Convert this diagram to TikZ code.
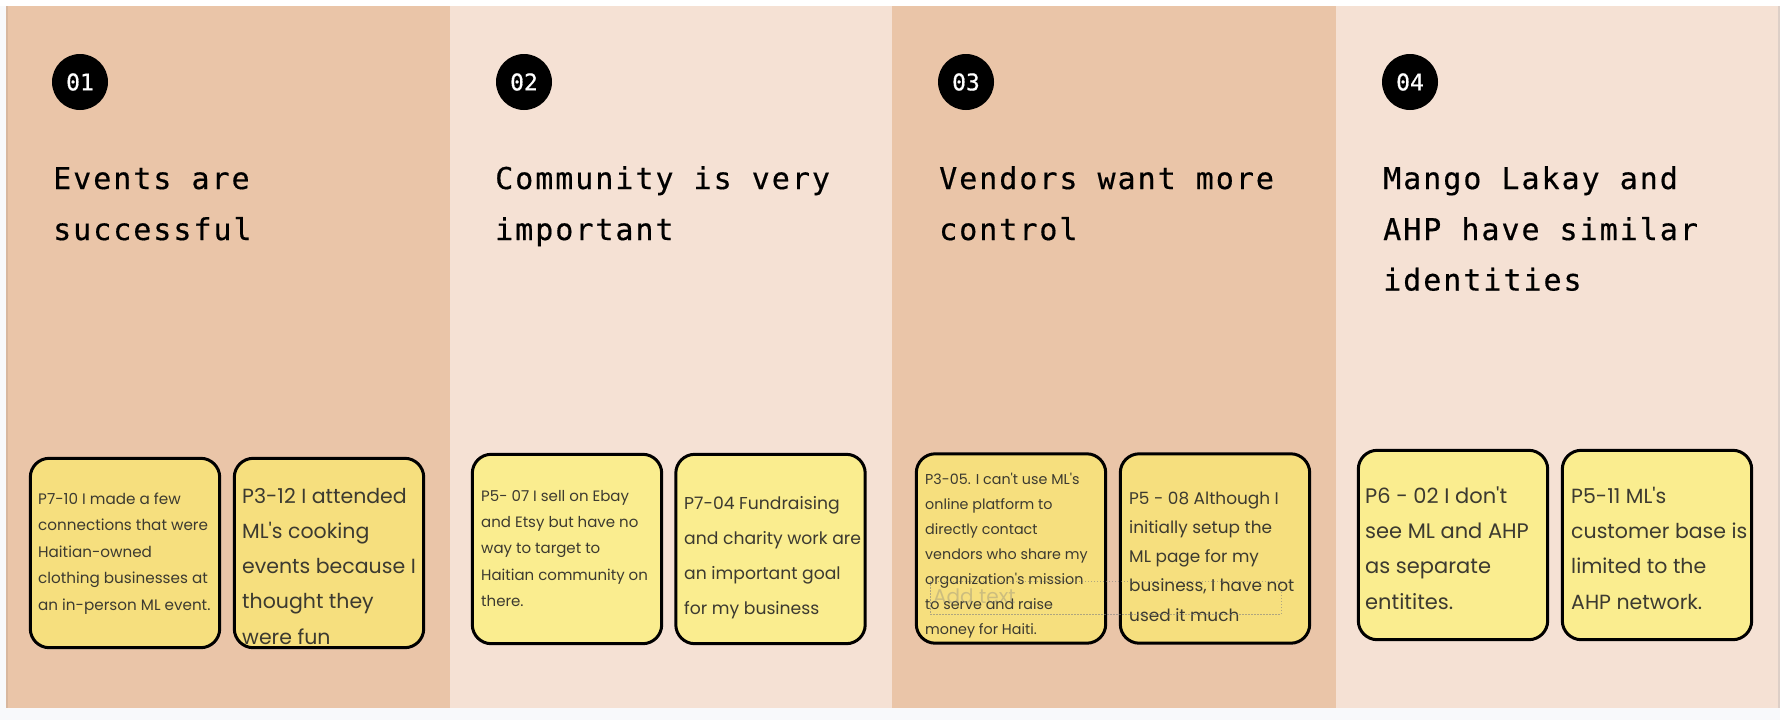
\documentclass[tikz,border=0pt]{standalone}
\usepackage{fontspec}
\newfontfamily\notefont{Poppins}
\newfontfamily\titlefont{DejaVu Sans Mono}[LetterSpace=6.6,FakeBold=0.5]
\newfontfamily\numfont{DejaVu Sans Mono}[FakeBold=0.6]
\definecolor{darkpan}{HTML}{EAC5A8}
\definecolor{lightpan}{HTML}{F5E1D4}
\definecolor{notedark}{HTML}{F6DF7E}
\definecolor{notelight}{HTML}{FAED8F}
\definecolor{notegray}{HTML}{3C3A30}
\definecolor{pagebg}{HTML}{F8F9FB}
\tikzset{
  notefill/.style={fill=#1, draw=none, rounded corners=19pt, minimum width=189pt, minimum height=189pt, inner sep=0pt},
  noteline/.style={draw=black, line width=3pt, rounded corners=19pt},
  notetxt/.style={anchor=base west, inner sep=0pt, text=notegray},
  titletxt/.style={anchor=base west, inner sep=0pt, text=black, font=\titlefont\fontsize{30}{30}\selectfont},
  numcirc/.style={circle, fill=black, minimum size=56pt, inner sep=0pt, text=white, font=\numfont\fontsize{23}{23}\selectfont}
}
\newcommand{\notelines}[6]{%
  \foreach \ln [count=\i from 0] in {#6} {
    \node[notetxt, font=\notefont\fontsize{#5}{#5}\selectfont] (#1-\i) at (#2, {#3+\i*#4}) {\ln};
  }}
\newcommand{\stickynote}[9]{% name, color, cx, cy, tx, ty, dy, size, lines
  \node[notefill=#2] (#1) at (#3,#4) {};
  \begin{scope}
    \clip[rounded corners=19pt] (#1.north west) rectangle (#1.south east);
    \notelines{#1t}{#5}{#6}{#7}{#8}{#9}
  \end{scope}
  \draw[noteline] (#1.north west) rectangle (#1.south east);
}
\begin{document}
\begin{tikzpicture}[x=1pt, y=-1pt]
\useasboundingbox (0,0) rectangle (1780,720);
\fill[pagebg] (0,0) rectangle (1780,720);
\fill[white] (0,0) rectangle (1780,6);
% panels
\fill[darkpan] (6,6) rectangle (450,708);
\fill[lightpan] (450,6) rectangle (892,708);
\fill[darkpan] (892,6) rectangle (1336,708);
\fill[lightpan] (1336,6) rectangle (1778,708);
\fill[color={rgb,255:red,216;green,183;blue,158}] (6,6) rectangle (7.5,708);
\fill[color={rgb,255:red,221;green,207;blue,199}] (1778,6) rectangle (1780,708);
% numbers
\node[numcirc] (c1) at (80,82) {01};
\node[numcirc] (c2) at (524,82) {02};
\node[numcirc] (c3) at (966,82) {03};
\node[numcirc] (c4) at (1410,82) {04};
% titles
\node[titletxt] (t1a) at (53,189) {Events are};
\node[titletxt] (t1b) at (53,240) {successful};
\node[titletxt] (t2a) at (495,189) {Community is very};
\node[titletxt] (t2b) at (495,240) {important};
\node[titletxt] (t3a) at (939,189) {Vendors want more};
\node[titletxt] (t3b) at (939,240) {control};
\node[titletxt] (t4a) at (1383,189) {Mango Lakay and};
\node[titletxt] (t4b) at (1383,240) {AHP have similar};
\node[titletxt] (t4c) at (1383,290.5) {identities};
% notes
\stickynote{n1}{notedark}{125}{553}{38}{504}{26.5}{15.2}{P7-10 I made a few, connections that were, Haitian-owned, clothing businesses at, an in-person ML event.}
\stickynote{n2}{notedark}{329}{553}{242}{503}{35.3}{20.5}{P3-12 I attended, ML's cooking, events because I, thought they, were fun}
\stickynote{n3}{notelight}{567}{549}{481}{501}{26.4}{15.0}{P5- 07 I sell on Ebay, and Etsy but have no, way to target to, Haitian community on, there.}
\stickynote{n4}{notelight}{770.5}{549}{684}{509}{35}{17.2}{P7-04 Fundraising, and charity work are, an important goal, for my business}
\stickynote{n5}{notedark}{1011}{548.5}{925}{484}{25}{14.3}{P3-05. I can't use ML's, online platform to, directly contact, vendors who share my, organization's mission, to serve and raise, money for Haiti.}
\stickynote{n6}{notedark}{1215}{548.5}{1129}{504}{29.3}{16.9}{P5 - 08 Although I, initially setup the, ML page for my, {business, I have not}, used it much}
\stickynote{n7}{notelight}{1453}{545}{1365}{503}{35.4}{21}{P6 - 02 I don't, see ML and AHP, as separate, entitites.}
\stickynote{n8}{notelight}{1657}{545}{1571}{503}{35.4}{20.5}{P5-11 ML's, customer base is, limited to the, AHP network.}
% placeholder text box
\coordinate (ph1) at (930,581);
\coordinate (ph2) at (1281,614);
\draw[gray, opacity=0.6, line width=1pt, dash pattern=on 1.5pt off 1.5pt] (ph1) rectangle (ph2);
\node[notetxt, text=gray, text opacity=0.35, font=\notefont\fontsize{20}{20}\selectfont] (ph) at (933,603) {Add text};
\end{tikzpicture}
\end{document}
